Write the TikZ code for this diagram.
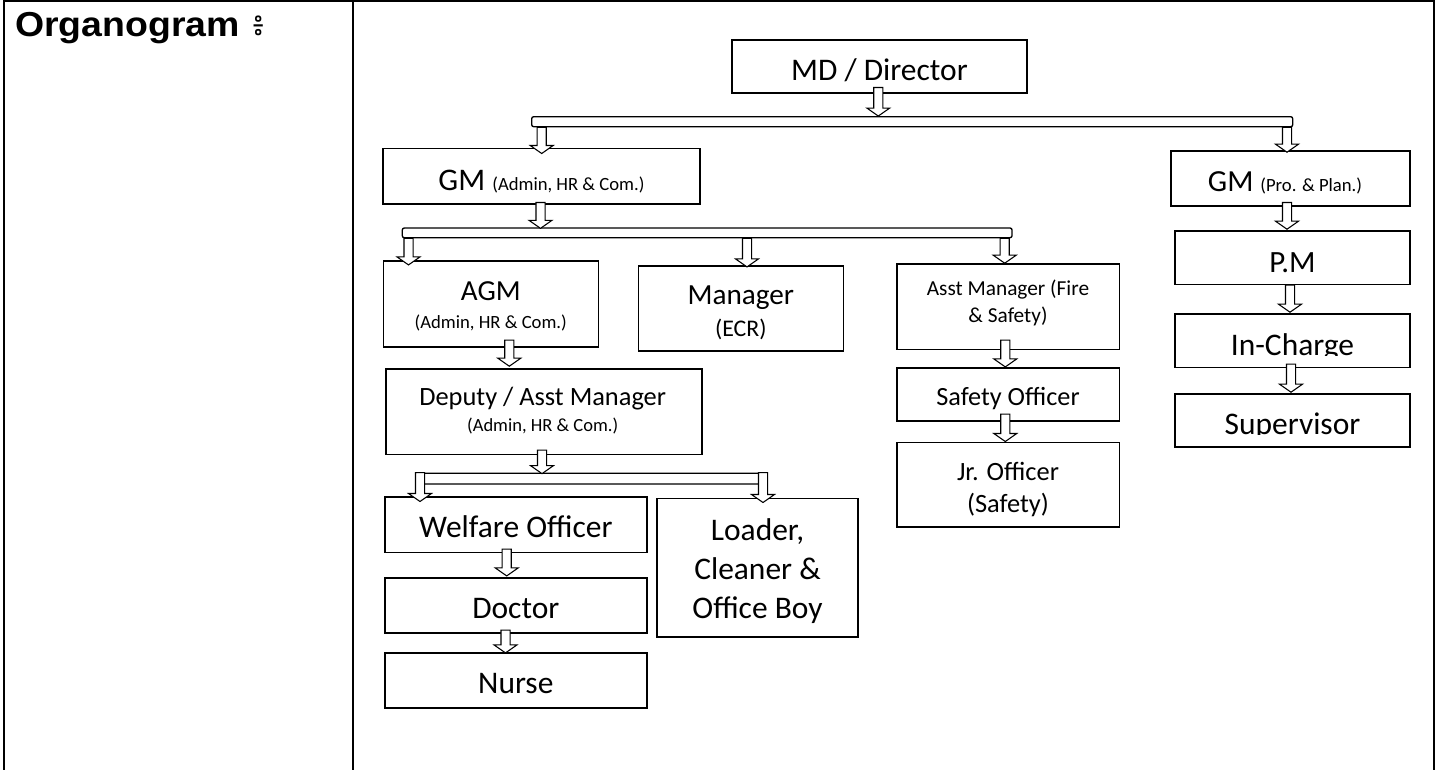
\documentclass[tikz,border=0pt]{standalone}
\usepackage{fontspec}
\setmainfont{Carlito}
\newfontfamily\arialb{Liberation Sans}[FakeStretch=1.08]
\newfontfamily\khmerfont[Script=Khmer]{Battambang}
\usetikzlibrary{calc,fit}
\tikzset{
  x=0.75pt, y=-0.75pt,
  frame/.style={line width=1.5pt, line cap=rect},
  box/.style={draw, line width=1.2pt, fill=white, inner sep=0pt},
  bar/.style={draw, line width=1pt, fill=white, rounded corners=1.5pt, inner sep=0pt},
  lbl/.style={anchor=base, inner sep=0pt},
  blockarr/.style={draw, line width=0.8pt, fill=white, line join=miter,
    to path={let \p1=(\tikztostart), \p2=(\tikztotarget) in
      (\x1-3.4pt,\y1) -- (\x1+3.4pt,\y1) -- (\x1+3.4pt,\y2+6pt) -- (\x1+8.6pt,\y2+6pt)
      -- (\x1,\y2) -- (\x1-8.6pt,\y2+6pt) -- (\x1-3.4pt,\y2+6pt) -- cycle}},
}
\newcommand\orgbox[5]{\node[box, fit={(#2,#3)(#4,#5)}] (#1) {};}
\newcommand\orgbar[5]{\node[bar, fit={(#2,#3)(#4,#5)}] (#1) {};}
\newcommand\fs[1]{\fontsize{#1}{#1}\selectfont}
\begin{document}
\begin{tikzpicture}
\useasboundingbox (0,0) rectangle (1443,769);
% table frame
\draw[frame] (4,769) -- (4,1) -- (1434.3,1) -- (1434.3,769);
\draw[frame] (353.3,1) -- (353.3,769);
\node[anchor=base west, inner sep=0pt] (title) at (15,36)
  {\arialb\bfseries\fs{26}Organogram {\khmerfont\mdseries\fs{25}៖}};
% boxes
\orgbox{md}{732}{40}{1027}{93}
\orgbox{gma}{383}{148.3}{700}{204}
\orgbox{gmb}{1171}{151}{1410}{206}
\orgbox{agm}{383.3}{260.7}{598.3}{346.7}
\orgbox{mgr}{638.3}{265.7}{843.3}{350.7}
\orgbox{asst}{896.7}{264}{1119.3}{349.3}
\orgbox{dep}{386}{369}{701.7}{454.3}
\orgbox{wel}{385}{496.7}{646.7}{552.3}
\orgbox{ldr}{656.7}{498.3}{858}{636.7}
\orgbox{doc}{385}{577.7}{646.7}{632.7}
\orgbox{nur}{385}{652.7}{646.7}{707.7}
\orgbox{saf}{896.7}{367.7}{1119.3}{420.7}
\orgbox{jr}{896.7}{442.3}{1119.3}{527}
\orgbox{pm}{1175}{231}{1410}{284.3}
\orgbox{ic}{1175}{314}{1410}{367.3}
\orgbox{sup}{1175}{394}{1410}{446.7}
% bars
\orgbar{bar1}{531.7}{116.7}{1292.7}{126.7}
\orgbar{bar2}{402.3}{228}{1012}{237.7}
\orgbar{bar3}{415.7}{473.3}{766.7}{484}
% texts
\node[lbl] (tmd) at (879.5,80) {\fs{23.6}MD / Director};
\node[lbl] (tgma) at (541.5,190.7) {\fs{23.6}GM {\fs{14}(Admin, HR \& Com.)}};
\node[lbl] (tgmb) at (1285,191.7) {\fs{23}GM {\fs{14}(Pro. \& Plan.)}};
\node[lbl] (tagm1) at (490.8,300) {\fs{21.8}AGM};
\node[lbl] (tagm2) at (490.8,328.3) {\fs{14}(Admin, HR \& Com.)};
\node[lbl] (tmgr1) at (740.8,304) {\fs{21.9}Manager};
\node[lbl] (tmgr2) at (740.8,336.7) {\fs{17.9}(ECR)};
\node[lbl] (tasst1) at (1008,295.7) {\fs{16}Asst Manager (Fire};
\node[lbl] (tasst2) at (1008,322.7) {\fs{16}\& Safety)};
\node[lbl] (tdep1) at (542.7,405) {\fs{19.8}Deputy / Asst Manager};
\node[lbl] (tdep2) at (542.7,431.7) {\fs{13.9}(Admin, HR \& Com.)};
\node[lbl] (twel) at (515.8,537.3) {\fs{23.6}Welfare Officer};
\node[lbl] (tldr1) at (757.5,540) {\fs{23.6}Loader,};
\node[lbl] (tldr2) at (757.5,579) {\fs{23.6}Cleaner \&};
\node[lbl] (tldr3) at (757.5,618) {\fs{23.6}Office Boy};
\node[lbl] (tdoc) at (515.8,618.3) {\fs{23.6}Doctor};
\node[lbl] (tnur) at (515.8,693.3) {\fs{23.6}Nurse};
\node[lbl] (tsaf) at (1008,405) {\fs{19.7}Safety Officer};
\node[lbl] (tjr1) at (1008,480) {\fs{19.8}Jr. Officer};
\node[lbl] (tjr2) at (1008,512) {\fs{19.8}(Safety)};
\node[lbl] (tpm) at (1292.5,272.7) {\fs{23.2}P.M};
\begin{scope}
  \clip (1175,314) rectangle (1410,355);
  \node[lbl] (tic) at (1292.5,355) {\fs{23.6}In-Charge};
\end{scope}
\begin{scope}
  \clip (1175,394) rectangle (1410,434);
  \node[lbl] (tsup) at (1292.5,434) {\fs{23.6}Supervisor};
\end{scope}
% arrow columns
\coordinate (a1) at (878.3,0);
\coordinate (a2) at (541.7,0);
\coordinate (a3) at (1287,0);
\coordinate (a4) at (540.5,0);
\coordinate (a5) at (408.5,0);
\coordinate (a6) at (747,0);
\coordinate (a7) at (1004.7,0);
\coordinate (a8) at (509.3,0);
\coordinate (a9) at (542,0);
\coordinate (a10) at (420,0);
\coordinate (a11) at (763,0);
\coordinate (a12) at (506.7,0);
\coordinate (a13) at (505.5,0);
\coordinate (a14) at (1005.3,0);
\coordinate (a15) at (1005.3,0);
\coordinate (a16) at (1287,0);
\coordinate (a17) at (1290,0);
\coordinate (a18) at (1291,0);
% connectors
\draw[blockarr] ($(md.south -| a1)+(0,-6.3)$) to (bar1.north -| a1);
\draw[blockarr] (bar1.south -| a2) to ($(gma.north -| a2)+(0,6)$);
\draw[blockarr] (bar1.south -| a3) to ($(gmb.north -| a3)+(0,2)$);
\draw[blockarr] ($(gma.south -| a4)+(0,-2.3)$) to ($(bar2.north -| a4)+(0,1)$);
\draw[blockarr] (bar2.south -| a5) to ($(agm.north -| a5)+(0,5)$);
\draw[blockarr] (bar2.south -| a6) to ($(mgr.north -| a6)+(0,2)$);
\draw[blockarr] (bar2.south -| a7) to (asst.north -| a7);
\draw[blockarr] ($(agm.south -| a8)+(0,-7.4)$) to ($(dep.north -| a8)+(0,-2)$);
\draw[blockarr] ($(dep.south -| a9)+(0,-5)$) to ($(bar3.north -| a9)+(0,1)$);
\draw[blockarr] (bar3.north -| a10) to ($(wel.north -| a10)+(0,5.6)$);
\draw[blockarr] (bar3.north -| a11) to ($(ldr.north -| a11)+(0,5)$);
\draw[blockarr] ($(wel.south -| a12)+(0,-4)$) to ($(doc.north -| a12)+(0,-1)$);
\draw[blockarr] ($(doc.south -| a13)+(0,-3.4)$) to ($(nur.north -| a13)+(0,1)$);
\draw[blockarr] ($(asst.south -| a14)+(0,-10)$) to (saf.north -| a14);
\draw[blockarr] ($(saf.south -| a15)+(0,-7.4)$) to (jr.north -| a15);
\draw[blockarr] ($(gmb.south -| a16)+(0,-4.3)$) to ($(pm.north -| a16)+(0,-1)$);
\draw[blockarr] (pm.south -| a17) to ($(ic.north -| a17)+(0,-1)$);
\draw[blockarr] ($(ic.south -| a18)+(0,-4)$) to ($(sup.north -| a18)+(0,-1)$);
\end{tikzpicture}
\end{document}
